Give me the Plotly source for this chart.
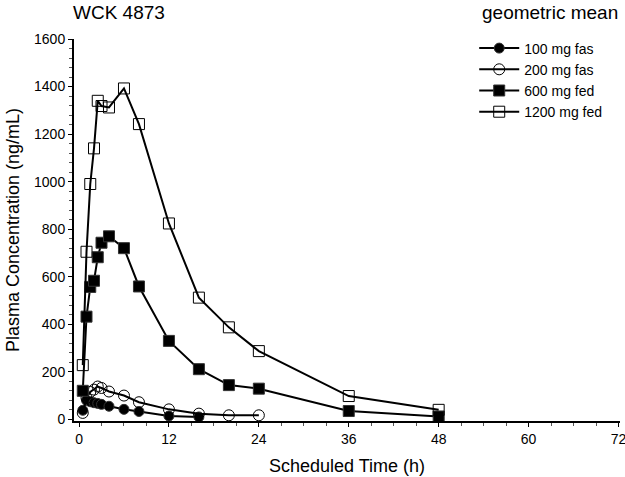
import plotly.graph_objects as go

# sampling times (h)
t_100 = [0.5, 1, 1.5, 2, 2.5, 3, 4, 6, 8, 12, 16]
t_200 = [0.5, 1, 1.5, 2, 2.5, 3, 4, 6, 8, 12, 16, 20, 24]
t_fed = [0.5, 1, 1.5, 2, 2.5, 3, 4, 6, 8, 12, 16, 20, 24, 36, 48]

# geometric mean plasma concentrations (ng/mL)
c_100_fas = [38, 80, 74, 70, 67, 63, 55, 42, 33, 14, 10]
c_200_fas = [27, 90, 115, 125, 138, 132, 117, 100, 72, 42, 24, 17, 17]
c_600_fed = [120, 432, 557, 583, 682, 743, 770, 720, 559, 330, 211, 144, 129, 35, 12]
c_1200_fed = [228, 705, 990, 1140, 1340, 1318, 1312, 1392, 1242, 824, 512, 387, 287, 98, 40]

x_ticks = [0, 12, 24, 36, 48, 60, 72]
y_ticks = [0, 200, 400, 600, 800, 1000, 1200, 1400, 1600]

font = "Liberation Sans, Arial, sans-serif"

series = [
    ("100 mg fas", t_100, c_100_fas, "circle", 10),
    ("200 mg fas", t_200, c_200_fas, "circle-open", 11),
    ("600 mg fed", t_fed, c_600_fed, "square", 11),
    ("1200 mg fed", t_fed, c_1200_fed, "square-open", 11),
]

fig = go.Figure()
for name, t, c, sym, size in series:
    fig.add_trace(go.Scatter(
        x=t, y=c, name=name, mode="lines+markers",
        line=dict(color="black", width=2),
        marker=dict(symbol=sym, size=size, color="black",
                    line=dict(color="#333333", width=1)),
    ))

fig.add_annotation(text="WCK 4873", xref="paper", yref="paper", x=-0.005, y=1.07,
                   xanchor="left", yanchor="middle", showarrow=False,
                   font=dict(size=19, color="black", family=font))
fig.add_annotation(text="geometric mean", xref="paper", yref="paper", x=1.0, y=1.07,
                   xanchor="right", yanchor="middle", showarrow=False,
                   font=dict(size=19, color="black", family=font))

fig.update_layout(
    width=625, height=477,
    margin=dict(l=74, r=5, t=39, b=56),
    plot_bgcolor="white", paper_bgcolor="white",
    font=dict(family=font, color="black", size=14),
    showlegend=True,
    legend=dict(x=0.733, y=1.017, xanchor="left", yanchor="top",
                bgcolor="rgba(0,0,0,0)", font=dict(size=14),
                tracegroupgap=0, itemwidth=40),
    xaxis=dict(
        range=[-0.67, 72.2], tickvals=x_ticks, ticks="outside", ticklen=4,
        tickcolor="black", showline=True, linecolor="black", linewidth=2,
        showgrid=False, zeroline=False, ticklabeloverflow="allow", automargin=False,
        minor=dict(dtick=3, tick0=0, ticks="outside", ticklen=3, tickcolor="#555555"),
        title=dict(text="Scheduled Time (h)", font=dict(size=18), standoff=14),
    ),
    yaxis=dict(
        range=[-7, 1600], tickvals=y_ticks, ticks="outside", ticklen=4,
        tickcolor="black", showline=True, linecolor="black", linewidth=2,
        showgrid=False, zeroline=False, automargin=False,
        minor=dict(dtick=40, tick0=0, ticks="outside", ticklen=3, tickcolor="#555555"),
        title=dict(text="Plasma Concentration (ng/mL)", font=dict(size=18), standoff=10),
    ),
)

fig.write_html("out.html", config={"displayModeBar": False},
               post_script="document.body.style.margin='0';")
